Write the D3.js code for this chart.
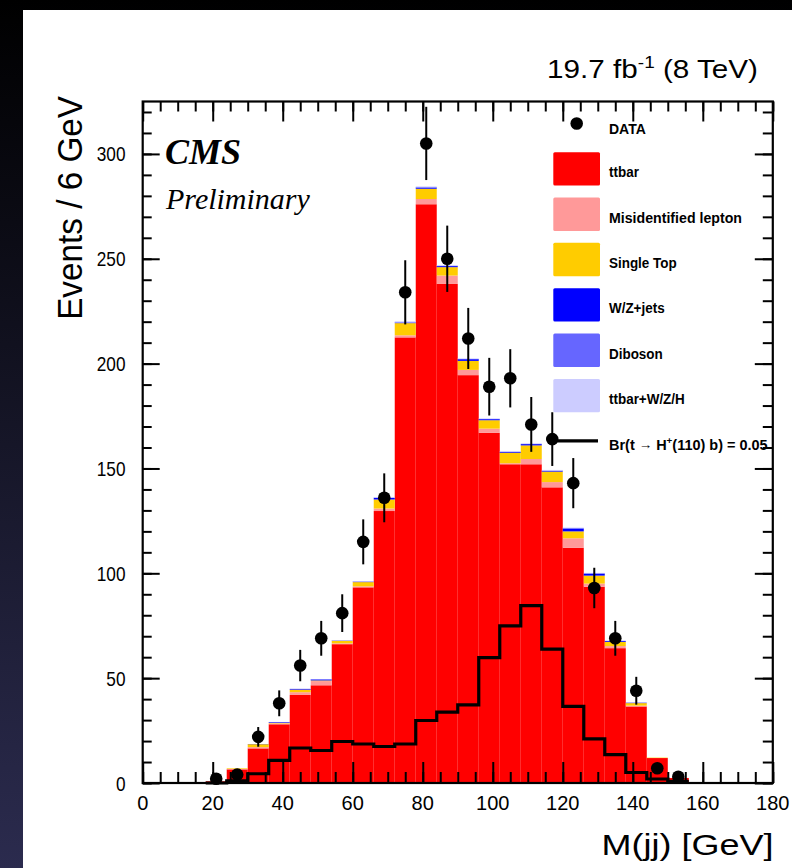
<!DOCTYPE html>
<html><head><meta charset="utf-8">
<script src="https://cdn.jsdelivr.net/npm/d3@7"></script>
<style>html,body{margin:0;padding:0;background:#fff;overflow:hidden;width:792px;height:868px}svg{display:block}</style>
</head><body>
<svg id="c" width="792" height="868" viewBox="0 0 792 868"></svg>
<script>
// ---------- data (bins of 6 GeV) ----------
const binLow = [0,6,12,18,24,30,36,42,48,54,60,66,72,78,84,90,96,102,108,114,120,126,132,138,144,150,156,162,168,174];
const binWidth = 6;
const ttbar     = [0,0,0,0.8,6.5,16.5,28,42,46.6,66.2,93.3,129.7,212.5,276,238,194.5,167,152,152,141,112.2,93.6,64.3,36.5,11.9,2.4,0,0,0,0];
const misLepton = [0,0,0,0,0.2,0.6,0.4,1.3,2.0,0.4,0.5,1.2,1.0,2.5,4.0,2.5,2.0,0.5,2.5,2.5,4.5,1.5,1.0,0.4,0,0,0,0,0,0];
const singleTop = [0,0,0,0,0.3,1.4,0.3,1.2,0.3,1.2,2.0,4.3,5.8,4.9,4.0,4.3,4.0,5.0,6.5,5.0,3.3,3.8,2.0,1.2,0.2,0,0,0,0,0];
const wzJets    = [0,0,0,0,0,0.1,0.3,0.3,0.5,0.1,0.2,0.8,0.3,0.6,0.5,0.8,0.5,0.4,0.6,0.4,1.4,1.0,0.4,0.2,0,0,0,0,0,0];
const diboson   = [0,0,0,0,0,0,0.1,0.1,0.1,0.1,0.1,0.1,0.1,0.1,0.1,0.1,0.1,0.1,0.1,0.1,0.1,0.1,0.1,0,0,0,0,0,0,0];
const ttV       = [0,0,0,0,0,0,0,0.1,0.1,0.1,0.2,0.3,0.5,0.4,0.4,0.3,0.3,0.3,0.3,0.3,0.3,0.2,0.1,0.1,0,0,0,0,0,0];
const dataCounts= [0,0,0,2,4,22,38,56,69,81,115,136,234,305,250,212,189,193,171,164,143,93,69,44,7,3,0,0,0,0];
const signal    = [0,0,0,0,1,4.4,10.8,16.7,15.5,19.8,18.6,17.4,18.6,29.8,33.8,37.3,59.8,74.9,84.6,63.8,36.5,21,13.5,5,1.9,0.8,0,0,0,0];
const xTickLabels = [0,20,40,60,80,100,120,140,160,180];
const yTickLabels = [0,50,100,150,200,250,300];
const seriesKeys  = ["ttbar","misLepton","singleTop","wzJets","diboson","ttV"];
const seriesNames = ["ttbar","Misidentified lepton","Single Top","W/Z+jets","Diboson","ttbar+W/Z/H"];
const seriesColors= ["#ff0000","#ff9999","#ffcc00","#0000ff","#6666ff","#ccccff"];

// ---------- setup ----------
const svg = d3.select("#c");
const defs = svg.append("defs");
const grad = defs.append("linearGradient").attr("id","bg").attr("x1",0).attr("y1",0).attr("x2",0).attr("y2",1);
grad.append("stop").attr("offset","0%").attr("stop-color","#000000");
grad.append("stop").attr("offset","100%").attr("stop-color","#2b2b4e");
svg.append("rect").attr("width",792).attr("height",868).attr("fill","url(#bg)");
svg.append("rect").attr("x",23).attr("y",10).attr("width",780).attr("height",870).attr("fill","#fff");

const x = d3.scaleLinear().domain([0,180]).range([142.7,772.8]);
const y = d3.scaleLinear().domain([0,325]).range([783,101.5]);

const table = binLow.map((lo,i)=>({lo, ttbar:ttbar[i], misLepton:misLepton[i], singleTop:singleTop[i], wzJets:wzJets[i], diboson:diboson[i], ttV:ttV[i]}));
const stacked = d3.stack().keys(seriesKeys)(table);

const plot = svg.append("g");
stacked.forEach((layer,k)=>{
  plot.append("g").attr("fill",seriesColors[k]).selectAll("rect")
    .data(layer.filter(d=>d[1]-d[0]>0))
    .join("rect")
    .attr("x",d=>x(d.data.lo))
    .attr("width",d=>x(d.data.lo+binWidth)-x(d.data.lo))
    .attr("y",d=>y(d[1]))
    .attr("height",d=>y(d[0])-y(d[1]));
});

// signal step line
const sigPts = [];
binLow.forEach((lo,i)=>{ if(lo>=18 && lo<156){ sigPts.push([lo,signal[i]]); sigPts.push([lo+binWidth,signal[i]]); } });
plot.append("path").attr("d", d3.line().x(d=>x(d[0])).y(d=>y(d[1]))(sigPts))
  .attr("fill","none").attr("stroke","#000").attr("stroke-width",3.2).attr("stroke-linejoin","miter");

// data points
const pts = binLow.map((lo,i)=>({c:lo+binWidth/2, v:dataCounts[i]})).filter(d=>d.v>0);
const dg = plot.append("g");
dg.selectAll("line").data(pts).join("line")
  .attr("x1",d=>x(d.c)).attr("x2",d=>x(d.c))
  .attr("y1",d=>y(d.v+Math.sqrt(d.v))).attr("y2",d=>y(Math.max(0,d.v-Math.sqrt(d.v))))
  .attr("stroke","#000").attr("stroke-width",2);
dg.selectAll("circle").data(pts).join("circle")
  .attr("cx",d=>x(d.c)).attr("cy",d=>y(d.v)).attr("r",6.3).attr("fill","#000");

// ---------- axes / frame ----------
function styleAxis(g){ g.select(".domain").remove(); g.selectAll("line").attr("stroke","#000").attr("stroke-width",2); }
const xMaj = d3.range(0,181,20), xMin = d3.range(0,181,5);
const yMaj = d3.range(0,326,50), yMin = d3.range(0,326,10);
svg.append("g").attr("transform",`translate(0,${y(0)})`).call(d3.axisBottom(x).tickValues(xMin).tickSize(-11).tickFormat("")).call(styleAxis);
svg.append("g").attr("transform",`translate(0,${y(0)})`).call(d3.axisBottom(x).tickValues(xMaj).tickSize(-21).tickFormat("")).call(styleAxis);
svg.append("g").attr("transform",`translate(0,${y(325)})`).call(d3.axisTop(x).tickValues(xMin).tickSize(-10).tickFormat("")).call(styleAxis);
svg.append("g").attr("transform",`translate(0,${y(325)})`).call(d3.axisTop(x).tickValues(xMaj).tickSize(-20).tickFormat("")).call(styleAxis);
svg.append("g").attr("transform",`translate(${x(0)},0)`).call(d3.axisLeft(y).tickValues(yMin).tickSize(-9).tickFormat("")).call(styleAxis);
svg.append("g").attr("transform",`translate(${x(0)},0)`).call(d3.axisLeft(y).tickValues(yMaj).tickSize(-17).tickFormat("")).call(styleAxis);
svg.append("g").attr("transform",`translate(${x(180)},0)`).call(d3.axisRight(y).tickValues(yMin).tickSize(-10).tickFormat("")).call(styleAxis);
svg.append("g").attr("transform",`translate(${x(180)},0)`).call(d3.axisRight(y).tickValues(yMaj).tickSize(-18).tickFormat("")).call(styleAxis);
svg.append("rect").attr("x",x(0)).attr("y",y(325)).attr("width",x(180)-x(0)).attr("height",y(0)-y(325))
  .attr("fill","none").attr("stroke","#000").attr("stroke-width",2.2);

const SANS = "'Liberation Sans', Arial, Helvetica, sans-serif";
const SERIF = "'Liberation Serif', 'Times New Roman', serif";

function fitWidth(sel, tx, ty, target, rot){
  const w = sel.node().getBBox().width;
  const s = target / w;
  sel.attr("transform", `translate(${tx},${ty})${rot?` rotate(${rot})`:""} scale(${s},1)`);
}

// tick labels
svg.append("g").selectAll("text").data(xTickLabels).join("text")
  .attr("x",d=>x(d)).attr("y",810).attr("text-anchor","middle")
  .attr("font-family",SANS).attr("font-size",20).attr("fill","#000").text(d=>d);
svg.append("g").selectAll("text").data(yTickLabels).join("text")
  .each(function(d){
    const t = d3.select(this).attr("x",0).attr("y",0).attr("text-anchor","end")
      .attr("font-family",SANS).attr("font-size",21).attr("fill","#000").text(d);
    t.attr("transform",`translate(125.5,${y(d)+7.5}) scale(0.82,1)`);
  });

// axis titles
const xt = svg.append("text").attr("text-anchor","end").attr("font-family",SANS).attr("font-size",30).text("M(jj) [GeV]");
fitWidth(xt, 773.5, 855, 172);
const yt = svg.append("text").attr("text-anchor","end").attr("font-family",SANS).attr("font-size",36).text("Events / 6 GeV");
fitWidth(yt, 82, 96, 224, -90);

// lumi title
const tt = svg.append("text").attr("text-anchor","end").attr("font-family",SANS).attr("font-size",25);
tt.append("tspan").text("19.7 fb");
tt.append("tspan").attr("font-size",16).attr("dy",-10).text("-1");
tt.append("tspan").attr("dy",10).text(" (8 TeV)");
fitWidth(tt, 758, 78, 211);

// CMS labels
svg.append("text").attr("x",165).attr("y",164).attr("font-family",SERIF).attr("font-weight","bold").attr("font-style","italic").attr("font-size",36).text("CMS");
svg.append("text").attr("x",166).attr("y",209).attr("font-family",SERIF).attr("font-style","italic").attr("font-size",30).text("Preliminary");

// ---------- legend ----------
const leg = svg.append("g").attr("font-family",SANS).attr("font-weight","bold").attr("font-size",14);
const rowY0 = 123.5, rowH = 45.35, boxX = 553.3, boxW = 46.7, boxH = 33.4, textX = 609;
leg.append("circle").attr("cx",576.7).attr("cy",rowY0).attr("r",6.3).attr("fill","#000");
leg.append("text").attr("x",textX).attr("y",rowY0+10.5).text("DATA");
seriesNames.forEach((n,k)=>{
  const cy = rowY0 + rowH*(k+1);
  leg.append("rect").attr("x",boxX).attr("y",cy-boxH/2).attr("width",boxW).attr("height",boxH).attr("rx",1.5).attr("fill",seriesColors[k]);
  const t = leg.append("text").attr("x",0).attr("y",0).text(n);
  if(k===1) fitWidth(t, textX, cy+8.5, 133); else t.attr("transform",`translate(${textX},${cy+8.5}) scale(0.96,1)`);
});
const by = rowY0 + rowH*7;
leg.append("line").attr("x1",555).attr("x2",598).attr("y1",by).attr("y2",by).attr("stroke","#000").attr("stroke-width",3.2);
const bt = leg.append("text").attr("x",0).attr("y",0);
bt.append("tspan").text("Br(t  ");
bt.append("tspan").attr("font-size",13).attr("font-weight","normal").attr("dy",-1).text("\u2192");
bt.append("tspan").attr("dy",1).text(" H");
bt.append("tspan").attr("font-size",9.5).attr("dy",-6).text("+");
bt.append("tspan").attr("dy",6).text("(110) b) = 0.05");
fitWidth(bt, textX, by+9.5, 159);
</script>
</body></html>
